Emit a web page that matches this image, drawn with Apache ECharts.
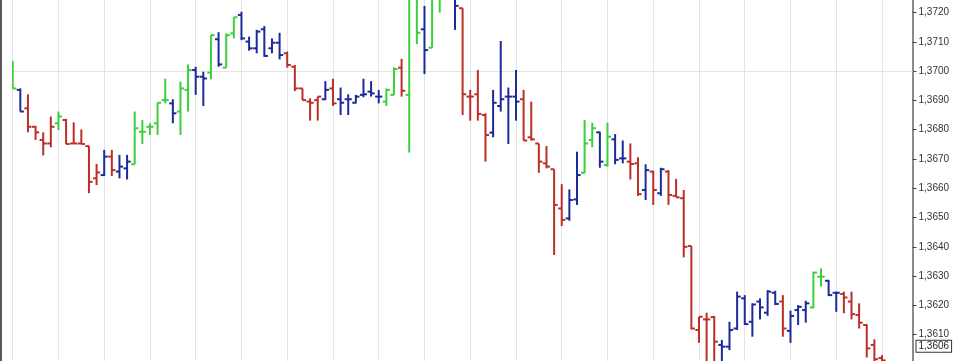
<!DOCTYPE html>
<html><head><meta charset="utf-8">
<script src="https://cdn.jsdelivr.net/npm/echarts@6/dist/echarts.min.js"></script>
<style>html,body{margin:0;padding:0;background:#fff}#c{width:960px;height:361px}</style>
</head><body><div id="c"></div>
<script>
// OHLC bars, one per category (bars 0..114), 4 empty slots at the right
const opens = [1.36964,1.36936,1.36873,1.36810,1.36765,1.36753,1.36822,1.36833,1.36753,1.36753,
1.36744,1.36634,1.36645,1.36708,1.36657,1.36668,1.36682,1.36793,1.36810,1.36822,
1.36901,1.36890,1.36862,1.36936,1.37004,1.36981,1.36995,1.37109,1.37012,1.37129,
1.37192,1.37101,1.37078,1.37143,1.37078,1.37097,1.37061,1.37015,1.36941,1.36896,
1.36901,1.36904,1.36941,1.36904,1.36904,1.36892,1.36919,1.36930,1.36913,1.36896,
1.36919,1.37012,1.36919,1.37275,1.37143,1.37080,1.37260,1.37280,1.37270,1.37215,
1.36913,1.36921,1.36850,1.36790,1.36881,1.36913,1.36913,1.36904,1.36774,1.36753,
1.36685,1.36665,1.36531,1.36497,1.36562,1.36653,1.36765,1.36791,1.36679,1.36767,
1.36702,1.36691,1.36685,1.36594,1.36657,1.36583,1.36657,1.36574,1.36566,1.36403,
1.36116,1.36152,1.36160,1.36065,1.36059,1.36121,1.36224,1.36144,1.36213,1.36175,
1.36243,1.36213,1.36113,1.36184,1.36184,1.36193,1.36298,1.36284,1.36243,1.36239,
1.36213,1.36167,1.36133,1.36065,1.36020];
const highs = [1.37035,1.36941,1.36921,1.36813,1.36791,1.36845,1.36862,1.36837,1.36825,1.36801,
1.36744,1.36683,1.36731,1.36731,1.36714,1.36714,1.36862,1.36833,1.36822,1.36892,
1.36974,1.36904,1.36964,1.37023,1.37015,1.36998,1.37123,1.37133,1.37129,1.37184,
1.37203,1.37118,1.37141,1.37154,1.37112,1.37131,1.37067,1.37021,1.36941,1.36907,
1.36913,1.36966,1.36974,1.36944,1.36921,1.36919,1.36974,1.36966,1.36936,1.36941,
1.37013,1.37042,1.37320,1.37320,1.37223,1.37280,1.37330,1.37330,1.37290,1.37215,
1.36936,1.37004,1.36856,1.36936,1.37103,1.36944,1.37004,1.36936,1.36896,1.36753,
1.36744,1.36665,1.36614,1.36596,1.36725,1.36833,1.36824,1.36793,1.36824,1.36785,
1.36763,1.36753,1.36706,1.36682,1.36660,1.36670,1.36662,1.36632,1.36594,1.36403,
1.36161,1.36175,1.36164,1.36082,1.36144,1.36247,1.36235,1.36207,1.36224,1.36252,
1.36250,1.36235,1.36182,1.36201,1.36216,1.36315,1.36326,1.36287,1.36247,1.36247,
1.36247,1.36207,1.36136,1.36084,1.36030];
const lows = [1.36941,1.36862,1.36791,1.36765,1.36712,1.36740,1.36799,1.36751,1.36751,1.36751,
1.36583,1.36611,1.36642,1.36642,1.36634,1.36630,1.36682,1.36751,1.36782,1.36782,
1.36890,1.36822,1.36782,1.36862,1.36919,1.36881,1.36972,1.37015,1.37012,1.37112,
1.37106,1.37070,1.37061,1.37049,1.37061,1.37040,1.37012,1.36932,1.36901,1.36831,
1.36831,1.36901,1.36881,1.36850,1.36850,1.36890,1.36911,1.36913,1.36890,1.36881,
1.36919,1.36913,1.36722,1.37092,1.36990,1.37080,1.37200,1.37255,1.37141,1.36850,
1.36831,1.36831,1.36691,1.36774,1.36862,1.36751,1.36831,1.36763,1.36763,1.36653,
1.36668,1.36372,1.36471,1.36489,1.36543,1.36651,1.36740,1.36670,1.36674,1.36682,
1.36685,1.36630,1.36574,1.36560,1.36543,1.36574,1.36543,1.36569,1.36364,1.36118,
1.36072,1.35980,1.35990,1.36000,1.36047,1.36116,1.36133,1.36093,1.36152,1.36164,
1.36201,1.36093,1.36072,1.36133,1.36141,1.36190,1.36264,1.36232,1.36178,1.36173,
1.36152,1.36121,1.36022,1.35980,1.35970];
const closes = [1.36941,1.36862,1.36810,1.36791,1.36753,1.36810,1.36845,1.36751,1.36753,1.36751,
1.36622,1.36654,1.36708,1.36662,1.36674,1.36691,1.36805,1.36793,1.36810,1.36892,
1.36901,1.36856,1.36941,1.37004,1.36981,1.36975,1.37123,1.37023,1.37123,1.37184,
1.37112,1.37078,1.37135,1.37052,1.37097,1.37055,1.37021,1.36941,1.36901,1.36892,
1.36913,1.36936,1.36890,1.36892,1.36904,1.36913,1.36921,1.36924,1.36913,1.36936,
1.37007,1.36933,1.37280,1.37131,1.37072,1.37265,1.37310,1.37310,1.37223,1.36921,
1.36913,1.36854,1.36782,1.36892,1.36904,1.36913,1.36896,1.36763,1.36767,1.36691,
1.36674,1.36543,1.36492,1.36560,1.36645,1.36753,1.36805,1.36691,1.36776,1.36697,
1.36702,1.36683,1.36580,1.36662,1.36594,1.36665,1.36577,1.36569,1.36400,1.36121,
1.36161,1.36152,1.36076,1.36059,1.36116,1.36230,1.36136,1.36203,1.36193,1.36247,
1.36205,1.36121,1.36164,1.36195,1.36207,1.36312,1.36298,1.36235,1.36243,1.36227,
1.36170,1.36141,1.36053,1.36016,1.36012];
// bar colour codes: g = green, b = blue, r = red
const colorCodes = ("gbrrrrgrrr"+"rrbrbbgggg"+"gbggbbgbgg"+"bbbbbbrrrr"+"rbrbbbbbbg"+
  "grggbgggbr"+"rrrbbbbrrr"+"rrrbbggbgb"+"brrbrbrrrr"+"rrrbbbbbbb"+"brbbbggbbr"+"rrrrr").split('');
const categoryCount = 119;
const yTickValues = [1.3610,1.3620,1.3630,1.3640,1.3650,1.3660,1.3670,1.3680,1.3690,1.3700,1.3710,1.3720];
const gridValues = [1.3610,1.3640,1.3670,1.3700];
const lastPrice = 1.3606;
const yMin = 1.36010, yMax = 1.37243;

const palette = {g:'#3ccf3c', b:'#1c2a9a', r:'#bb2f28'};
const categories = [];
for (let i = 0; i < categoryCount; i++) categories.push(String(i));
const barData = opens.map((o, i) => [i, o, closes[i], lows[i], highs[i], colorCodes[i]]);
const fmt = v => Number(v).toFixed(4).replace('.', ',');

function renderBar(params, api) {
  const i = api.value(0);
  const o = api.coord([i, api.value(1)]);
  const c = api.coord([i, api.value(2)]);
  const l = api.coord([i, api.value(3)]);
  const h = api.coord([i, api.value(4)]);
  const color = palette[barData[params.dataIndex][5]];
  const w = 3.6;
  const st = {stroke: color, lineWidth: 2};
  return {type: 'group', children: [
    {type: 'line', shape: {x1: h[0], y1: h[1], x2: l[0], y2: l[1]}, style: st},
    {type: 'line', shape: {x1: o[0] - w, y1: o[1], x2: o[0], y2: o[1]}, style: st},
    {type: 'line', shape: {x1: c[0], y1: c[1], x2: c[0] + w, y2: c[1]}, style: st}
  ]};
}

const chart = echarts.init(document.getElementById('c'), null, {renderer: 'canvas'});
chart.setOption({
  animation: false,
  backgroundColor: '#ffffff',
  grid: {left: 12.7, right: 47.5, top: 0, bottom: 0, containLabel: false},
  xAxis: {
    type: 'category', data: categories, boundaryGap: false,
    axisLine: {show: false}, axisTick: {show: false}, axisLabel: {show: false},
    splitLine: {show: true, interval: 5, lineStyle: {color: '#e4e4e4', width: 1}}
  },
  yAxis: [{
    type: 'value', position: 'right', min: yMin, max: yMax, scale: true,
    axisLine: {show: true, lineStyle: {color: '#8a8a8a', width: 2}},
    axisTick: {show: true, inside: false, length: 4, customValues: yTickValues, lineStyle: {color: '#444', width: 1}},
    axisLabel: {show: true, customValues: yTickValues, margin: 6, formatter: fmt,
      color: '#333', fontSize: 10, fontFamily: 'Liberation Sans, Arial, sans-serif'},
    splitLine: {show: false}
  }, {
    type: 'value', position: 'right', min: yMin, max: yMax, scale: true,
    axisLine: {show: false}, axisTick: {show: false}, splitLine: {show: false},
    axisLabel: {show: true, customValues: [lastPrice], margin: 4, formatter: fmt,
      color: '#222', fontSize: 10, fontFamily: 'Liberation Sans, Arial, sans-serif',
      backgroundColor: '#fff', borderColor: '#333', borderWidth: 1, padding: [1, 2, 0, 2]}
  }],
  graphic: [{type: 'rect', shape: {x: 0, y: 0, width: 2, height: 361}, style: {fill: '#5a5a5a'}, silent: true}],
  series: [
    {
      type: 'line', data: [], z: 1, silent: true,
      markLine: {silent: true, symbol: 'none', animation: false,
        lineStyle: {color: '#e4e4e4', width: 1, type: 'solid'}, label: {show: false},
        data: gridValues.map(v => ({yAxis: v}))}
    },
    {
      type: 'custom', z: 5, clip: true, renderItem: renderBar,
      encode: {x: 0, y: [1, 2, 3, 4]},
      data: barData
    }
  ]
});
</script></body></html>
